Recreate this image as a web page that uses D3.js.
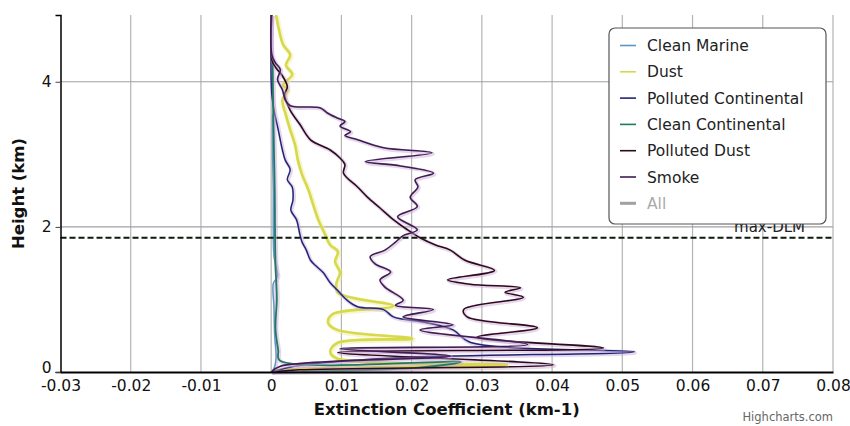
<!DOCTYPE html>
<html>
<head>
<meta charset="utf-8">
<script src="https://cdn.jsdelivr.net/npm/d3@7"></script>
<style>
  body { margin: 0; background: #fff; }
  svg { font-family: "DejaVu Sans", Verdana, sans-serif; }
</style>
</head>
<body>
<div id="chart"></div>
<script>
// values: [extinction (km-1), height (km)]
const cleanMarine = [[0.0002,3.55],[0.0002,3.0],[0.0003,2.5],[0.0003,2.0],[0.0004,1.6],[0.0008,1.4],[0.0009,1.32],[0.0003,1.22],[0.0004,0.9],[0.0005,0.5],[0.0007,0.2],[0.0004,0.05],[0,0]];
const dust = [[0.0007,4.92],[0.0011,4.72],[0.0017,4.51],[0.0027,4.37],[0.0021,4.23],[0.003,4.1],[0.0017,3.96],[0.0023,3.89],[0.0016,3.75],[0.0021,3.54],[0.0027,3.34],[0.0034,3.13],[0.0038,2.92],[0.0044,2.72],[0.0053,2.51],[0.006,2.3],[0.0067,2.1],[0.0077,1.89],[0.0084,1.75],[0.0095,1.66],[0.0091,1.52],[0.0098,1.37],[0.0093,1.23],[0.0095,1.09],[0.0174,0.91],[0.0088,0.8],[0.0081,0.68],[0.0094,0.58],[0.0201,0.46],[0.0094,0.4],[0.0084,0.28],[0.0093,0.19],[0.0336,0.1],[0.0013,0.03],[0,0]];
const pollutedContinental = [[0,4.92],[0,4.03],[0.0001,3.82],[0.0004,3.61],[0.001,3.34],[0.0016,3.06],[0.002,2.92],[0.0027,2.79],[0.0023,2.65],[0.003,2.55],[0.0031,2.37],[0.0028,2.23],[0.0036,2.1],[0.0041,1.89],[0.0044,1.79],[0.005,1.68],[0.0056,1.54],[0.0064,1.46],[0.0074,1.37],[0.0084,1.23],[0.0094,1.13],[0.0108,0.99],[0.0123,0.9],[0.016,0.86],[0.0174,0.76],[0.0222,0.68],[0.0259,0.58],[0.0283,0.41],[0.0517,0.28],[0.0184,0.2],[0.004,0.09],[0,0]];
const cleanContinental = [[0.0002,4.3],[0.0003,3.5],[0.0005,2.5],[0.0006,1.5],[0.0008,1.0],[0.0006,0.6],[0.001,0.3],[0.0012,0.16],[0.027,0.14],[0.021,0.06],[0,0]];
const pollutedDust = [[0.0001,4.92],[0.0001,4.3],[0.0007,4.19],[0.0016,4.08],[0.0023,3.93],[0.0019,3.82],[0.0027,3.61],[0.0041,3.41],[0.0056,3.2],[0.0084,3.06],[0.0098,2.95],[0.0105,2.86],[0.0103,2.74],[0.0123,2.55],[0.0137,2.41],[0.0155,2.26],[0.0174,2.1],[0.0194,1.96],[0.0212,1.85],[0.0234,1.75],[0.0255,1.68],[0.0276,1.54],[0.0318,1.4],[0.0251,1.27],[0.0283,1.21],[0.0355,1.16],[0.0333,1.1],[0.0359,1.03],[0.0274,0.86],[0.0279,0.76],[0.0379,0.61],[0.0293,0.48],[0.0473,0.33],[0.0095,0.27],[0.0402,0.1],[0.004,0.03],[0,0]];
const smoke = [[0,4.92],[0.0001,4.37],[0.0006,4.26],[0.0013,4.17],[0.0009,4.03],[0.0016,3.89],[0.002,3.75],[0.0027,3.67],[0.007,3.64],[0.008,3.57],[0.0094,3.5],[0.0105,3.45],[0.0098,3.39],[0.0113,3.31],[0.0105,3.26],[0.0123,3.2],[0.016,3.09],[0.0229,3.02],[0.0134,2.9],[0.0184,2.84],[0.0231,2.74],[0.0205,2.65],[0.0209,2.55],[0.0198,2.41],[0.0208,2.28],[0.018,2.14],[0.0208,1.96],[0.0188,1.88],[0.0177,1.79],[0.0162,1.68],[0.0141,1.59],[0.0148,1.49],[0.017,1.38],[0.0155,1.27],[0.0162,1.17],[0.0188,0.99],[0.0177,0.92],[0.0231,0.86],[0.0188,0.76],[0.0259,0.65],[0.0212,0.58],[0.0365,0.38],[0.0098,0.32],[0.0255,0.22],[0.0013,0.08],[0,0]];

const seriesNames = ["Clean Marine","Dust","Polluted Continental","Clean Continental","Polluted Dust","Smoke"];
const seriesData = [cleanMarine, dust, pollutedContinental, cleanContinental, pollutedDust, smoke];
const seriesColors = ["#5b97c4","#d8d84c","#1f2678","#1f7a62","#2e0a1c","#3f1d52"];
const seriesWidths = [1.4, 2.6, 1.5, 1.8, 1.6, 1.6];

const xTicks = [-0.03,-0.02,-0.01,0,0.01,0.02,0.03,0.04,0.05,0.06,0.07,0.08];
const yTicks = [0,2,4];
const dlmHeight = 1.85;

const W = 850, H = 426;
const margin = {top: 15, right: 17, bottom: 54, left: 60.5};

const svg = d3.select("#chart").append("svg")
  .attr("width", W).attr("height", H);

const x = d3.scaleLinear().domain([-0.03, 0.08]).range([margin.left, W - margin.right]);
const y = d3.scaleLinear().domain([0, 4.92]).range([H - margin.bottom, margin.top]);

// grid
svg.append("g").selectAll("line").data(xTicks.filter(d => d !== -0.03)).join("line")
  .attr("x1", d => x(d)).attr("x2", d => x(d))
  .attr("y1", y(4.92)).attr("y2", y(0))
  .attr("stroke", "#b4b4b4").attr("stroke-width", 1.2);
svg.append("g").selectAll("line").data(yTicks.filter(d => d > 0)).join("line")
  .attr("x1", x(-0.03)).attr("x2", x(0.08))
  .attr("y1", d => y(d)).attr("y2", d => y(d))
  .attr("stroke", "#a0a0a0").attr("stroke-width", 1.2);

// series
const line = d3.line()
  .x(d => x(d[0])).y(d => y(d[1]))
  .curve(d3.curveCatmullRom.alpha(0.5));

const gs = svg.append("g");
seriesData.forEach((data, i) => {
  gs.append("path").datum(data)
    .attr("d", line)
    .attr("fill", "none")
    .attr("stroke", i === 1 ? "#eeee90" : "#c8a6d8")
    .attr("stroke-opacity", 0.45)
    .attr("stroke-width", seriesWidths[i] + 2.2)
    .attr("transform", "translate(1,1)");
  gs.append("path").datum(data)
    .attr("d", line)
    .attr("fill", "none")
    .attr("stroke", seriesColors[i])
    .attr("stroke-width", seriesWidths[i])
    .attr("stroke-linejoin", "round");
});

// max-DLM dashed line
svg.append("line")
  .attr("x1", x(-0.03)).attr("x2", x(0.08))
  .attr("y1", y(dlmHeight)).attr("y2", y(dlmHeight))
  .attr("stroke", "#0d1a0d").attr("stroke-width", 2)
  .attr("stroke-dasharray", "6,3");
svg.append("text")
  .attr("x", x(0.08) - 28).attr("y", y(dlmHeight) - 6)
  .attr("text-anchor", "end")
  .attr("font-size", 15).attr("fill", "#222")
  .text("max-DLM");

// axes
const xAxis = svg.append("g")
  .attr("transform", `translate(0,${y(0)})`)
  .call(d3.axisBottom(x).tickValues(xTicks).tickSize(0).tickPadding(8)
    .tickFormat(d => d === 0 ? "0" : String(+d.toFixed(2))));
xAxis.select(".domain").attr("stroke", "#000").attr("stroke-width", 2.2);
xAxis.selectAll("text").attr("font-size", 15.5).attr("fill", "#111").attr("font-family", "DejaVu Sans");

const yAxis = svg.append("g")
  .attr("transform", `translate(${x(-0.03)},0)`)
  .call(d3.axisLeft(y).tickValues(yTicks).tickSize(5).tickPadding(4).tickFormat(d3.format("d")));
yAxis.select(".domain").attr("stroke", "#000").attr("stroke-width", 1.5);
yAxis.selectAll(".tick line").attr("stroke", "#444");
yAxis.selectAll("text").attr("font-size", 15.5).attr("fill", "#111").attr("font-family", "DejaVu Sans");
yAxis.selectAll(".tick").filter(d => d === 0).select("text").attr("dy", "0.05em");

// axis titles
svg.append("text")
  .attr("x", (x(-0.03) + x(0.08)) / 2).attr("y", 415)
  .attr("text-anchor", "middle").attr("font-weight", "bold").attr("font-size", 16.5).attr("fill", "#111")
  .text("Extinction Coefficient (km-1)");
svg.append("text")
  .attr("transform", `translate(24,${(y(0) + y(4.92)) / 2}) rotate(-90)`)
  .attr("text-anchor", "middle").attr("font-weight", "bold").attr("font-size", 16.5).attr("fill", "#111")
  .text("Height (km)");

svg.append("text")
  .attr("x", 833).attr("y", 421)
  .attr("text-anchor", "end").attr("font-size", 11.5).attr("fill", "#666")
  .text("Highcharts.com");

// legend (drawn last so it hides the top of the max-DLM label)
const legend = svg.append("g").attr("transform", "translate(609,28)");
legend.append("rect")
  .attr("width", 217).attr("height", 196).attr("rx", 6)
  .attr("fill", "#fff").attr("stroke", "#555").attr("stroke-width", 1.2);
const legendItems = seriesNames.concat(["All"]);
legendItems.forEach((name, i) => {
  const yy = 17.5 + i * 26.3;
  const isAll = name === "All";
  legend.append("line")
    .attr("x1", 11).attr("x2", 27).attr("y1", yy).attr("y2", yy)
    .attr("stroke", isAll ? "#a0a0a0" : seriesColors[i])
    .attr("stroke-width", isAll ? 3 : 1.6);
  legend.append("text")
    .attr("x", 38).attr("y", yy + 5.5)
    .attr("font-size", 15.5).attr("fill", isAll ? "#aaa" : "#222")
    .text(name);
});
</script>
</body>
</html>
